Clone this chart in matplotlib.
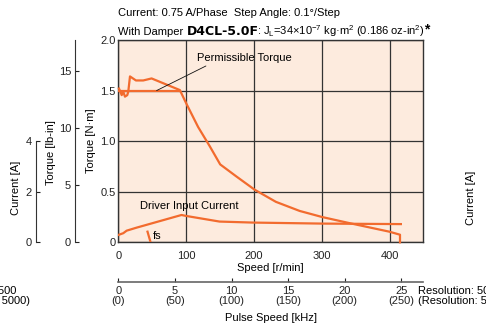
import matplotlib
matplotlib.use("Agg")
import matplotlib.pyplot as plt

plt.rcParams['font.family'] = ['Liberation Sans', 'DejaVu Sans']
plt.rcParams['font.size'] = 8
plt.rcParams['mathtext.fontset'] = 'custom'
plt.rcParams['mathtext.rm'] = 'Liberation Sans'
plt.rcParams['mathtext.it'] = 'Liberation Sans'

# pull-out torque [N·m] vs speed [r/min]
speed_pullout = [1, 5, 7.3, 9.8, 13.2, 14.7, 17.2, 26, 36.7, 49, 90.6, 101, 117.5,
                 134.6, 150, 174, 200.7, 232, 267, 300, 340, 399, 414.7, 414.7]
torque_pullout = [1.52, 1.455, 1.49, 1.44, 1.455, 1.49, 1.64, 1.60, 1.60, 1.62, 1.505,
                  1.36, 1.14, 0.95, 0.77, 0.65, 0.52, 0.40, 0.31, 0.25, 0.19, 0.105, 0.075, 0]

# permissible torque
speed_perm = [0, 90.6]
torque_perm = [1.5, 1.5]

# driver input current [A]
speed_current = [0, 7.3, 12.3, 27, 93, 100.4, 149, 198, 300, 416]
current_amp = [0.29, 0.36, 0.46, 0.58, 1.08, 1.04, 0.82, 0.78, 0.74, 0.72]

# fs marker
speed_fs = [43, 47.5]
torque_fs = [0.105, 0]

speed_ticks = [0, 100, 200, 300, 400]
torque_ticks = [0, 0.5, 1.0, 1.5, 2.0]
torque_labels = ['0', '0.5', '1.0', '1.5', '2.0']
lbin_ticks = [0, 5, 10, 15]
amp_ticks = [0, 2, 4]
pulse_ticks = [0, 5, 10, 15, 20, 25]
pulse_labels = ['0\n(0)', '5\n(50)', '10\n(100)', '15\n(150)', '20\n(200)', '25\n(250)']

orange = '#F26B2E'
dark = '#333333'
W, H = 486, 327

fig = plt.figure(figsize=(4.86, 3.27), dpi=100)
ax = fig.add_axes([118.3 / W, 1 - 242.3 / H, 305 / W, 202.3 / H])
ax.set_facecolor('#FDEBDE')
ax.set_xlim(0, 449)
ax.set_ylim(0, 2.0)
ax.set_xticks(speed_ticks)
ax.set_yticks(torque_ticks)
ax.set_yticklabels(torque_labels)
ax.tick_params(length=0, labelsize=8, colors='#222222')
ax.tick_params(axis='x', pad=6)
ax.tick_params(axis='y', pad=2)
ax.grid(True, color=dark, lw=0.9)
ax.set_axisbelow(True)
for s in ax.spines.values():
    s.set_color(dark)
    s.set_linewidth(1.0)
ax.set_xlabel('Speed [r/min]', labelpad=2)
ax.set_ylabel('Torque [N·m]', labelpad=3)

ax.plot(speed_pullout, torque_pullout, color=orange, lw=1.6, clip_on=False, zorder=3)
ax.plot(speed_perm, torque_perm, color=orange, lw=1.6, zorder=3)
ax.plot(speed_fs, torque_fs, color=orange, lw=1.6, zorder=3)
ax.text(51, 0.065, 'fs', fontsize=8, va='center')
ax.text(105, 0.36, 'Driver Input Current', fontsize=8, ha='center', va='center')
ax.annotate('Permissible Torque', xy=(56.4, 1.5), xytext=(186, 1.82),
            ha='center', va='center', fontsize=8,
            arrowprops=dict(arrowstyle='-', color='#111111', lw=0.6,
                            shrinkA=0, shrinkB=0, relpos=(0.15, 0.0)))

# current axis
axc = ax.twinx()
axc.set_ylim(0, 8)
axc.plot(speed_current, current_amp, color=orange, lw=1.6, zorder=3)
axc.set_xlim(0, 449)
axc.yaxis.set_ticks_position('left')
axc.yaxis.set_label_position('left')
axc.spines['left'].set_position(('outward', 82 * 0.72))
axc.spines['left'].set_bounds(0, 4)
axc.spines['left'].set_color(dark)
for k in ['right', 'top', 'bottom']:
    axc.spines[k].set_visible(False)
axc.set_yticks(amp_ticks)
axc.tick_params(axis='y', direction='in', length=3, pad=3, labelsize=8, colors='#222222')
axc.set_ylabel('Current [A]')
axc.yaxis.set_label_coords(-(118.3 - 21) / 305, 0.268)

# lb-in axis
axl = ax.twinx()
axl.set_ylim(0, 2.0 * 8.851)
axl.yaxis.set_ticks_position('left')
axl.yaxis.set_label_position('left')
axl.spines['left'].set_position(('outward', 43 * 0.72))
axl.spines['left'].set_color(dark)
for k in ['right', 'top', 'bottom']:
    axl.spines[k].set_visible(False)
axl.set_yticks(lbin_ticks)
axl.tick_params(axis='y', direction='in', length=3, pad=3, labelsize=8, colors='#222222')
axl.set_ylabel('Torque [lb-in]')
axl.yaxis.set_label_coords(-(118.3 - 56) / 305, 0.446)
axl.patch.set_visible(False)
axc.patch.set_visible(False)

# pulse speed axis
axp = ax.twiny()
axp.set_xlim(0, 449 * 3 / 50)
axp.xaxis.set_ticks_position('bottom')
axp.xaxis.set_label_position('bottom')
axp.spines['bottom'].set_position(('outward', 40 * 0.72))
axp.spines['bottom'].set_color('#666666')
axp.spines['bottom'].set_linewidth(1.2)
for k in ['right', 'top', 'left']:
    axp.spines[k].set_visible(False)
axp.set_xticks(pulse_ticks)
axp.set_xticklabels(pulse_labels, linespacing=0.95)
axp.tick_params(axis='x', direction='in', length=3, pad=3, labelsize=8, colors='#222222')
axp.set_xlabel('Pulse Speed [kHz]', labelpad=5)
axp.patch.set_visible(False)

# header
fig.text(118 / W, 1 - 13 / H, 'Current: 0.75 A/Phase  Step Angle: 0.1°/Step',
         fontsize=8, va='center')
y0 = 1 - 35 / H
t1 = fig.text(118 / W, y0, 'With Damper ', fontsize=8, va='baseline')
t2 = fig.text(0, y0, 'D4CL-5.0F', fontsize=9, weight='bold', family='DejaVu Sans',
              va='baseline')
t3 = fig.text(0, y0, r': J$_{\mathrm{L}}$=34×10$^{-7}$ kg·m$^{2}$ (0.186 oz-in$^{2}$)',
              fontsize=8, va='baseline')
t4 = fig.text(0, y0 + 0.006, '*', fontsize=10, weight='bold', va='baseline')

fig.canvas.draw()
r = fig.canvas.get_renderer()
x = t1.get_window_extent(r).x1
t2.set_x(x / W)
fig.canvas.draw()
x = t2.get_window_extent(r).x1 - 1
t3.set_x(x / W)
fig.canvas.draw()
x = t3.get_window_extent(r).x1 - 1
t4.set_x(x / W)

# resolution notes (right, and clipped neighbours)
fig.text(418 / W, 1 - 296 / H, 'Resolution: 500\n(Resolution: 5000)', fontsize=8,
         va='center', linespacing=1.0)
fig.text(-61 / W, 1 - 296 / H, 'Resolution: 500\n(Resolution: 5000)', fontsize=8,
         va='center', linespacing=1.0)
fig.text(471 / W, 1 - 198 / H, 'Current [A]', fontsize=8, rotation=90,
         ha='center', va='center')

fig.savefig('out.png', dpi=100)
